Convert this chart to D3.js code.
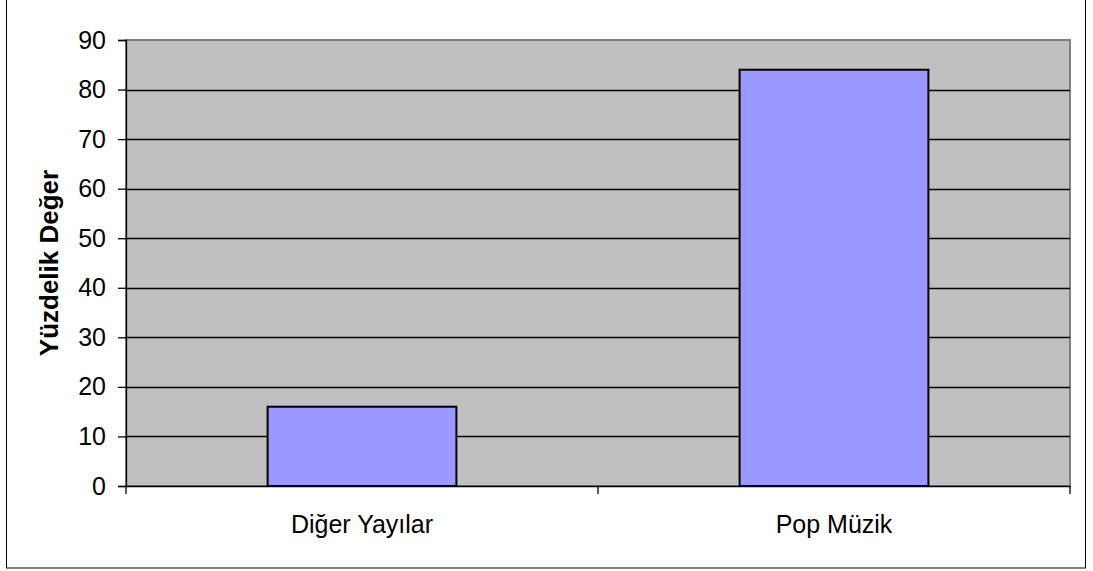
<!DOCTYPE html>
<html>
<head>
<meta charset="utf-8">
<script src="https://cdn.jsdelivr.net/npm/d3@7"></script>
<style>
  body { margin: 0; background: #fff; }
  svg { display: block; font-family: "Liberation Sans", Arial, sans-serif; }
</style>
</head>
<body>
<div id="chart"></div>
<script>
const categories = ["Diğer Yayılar", "Pop Müzik"];
const values = [16, 84];
const yTicks = [0, 10, 20, 30, 40, 50, 60, 70, 80, 90];

const W = 1093, H = 571;
const plot = { left: 126, top: 40, right: 1070, bottom: 486 };

const svg = d3.select("#chart").append("svg")
  .attr("width", W)
  .attr("height", H);

// outer frame
svg.append("rect")
  .attr("x", 6.5).attr("y", -2)
  .attr("width", 1079).attr("height", 570)
  .attr("fill", "none")
  .attr("stroke", "#000")
  .attr("stroke-width", 1);

const x = d3.scaleBand()
  .domain(categories)
  .range([plot.left, plot.right])
  .padding(0);

const y = d3.scaleLinear()
  .domain([0, 90])
  .range([plot.bottom, plot.top]);

// plot background
svg.append("rect")
  .attr("x", plot.left).attr("y", plot.top)
  .attr("width", plot.right - plot.left)
  .attr("height", plot.bottom - plot.top)
  .attr("fill", "#c0c0c0")
  .attr("stroke", "#808080")
  .attr("stroke-width", 2);

// gridlines
svg.append("g")
  .selectAll("line")
  .data(yTicks.filter(d => d > 0 && d < 90))
  .join("line")
  .attr("x1", plot.left).attr("x2", plot.right)
  .attr("y1", d => Math.round(y(d)) + 0.5)
  .attr("y2", d => Math.round(y(d)) + 0.5)
  .attr("stroke", "#000")
  .attr("stroke-width", 1.3);

// bars
const bw = x.bandwidth();
svg.append("g")
  .selectAll("rect")
  .data(values)
  .join("rect")
  .attr("x", (d, i) => x(categories[i]) + bw * 0.3)
  .attr("y", d => y(d))
  .attr("width", bw * 0.4)
  .attr("height", d => y(0) - y(d))
  .attr("fill", "#9999ff")
  .attr("stroke", "#000")
  .attr("stroke-width", 2);

// y axis
const yAxis = svg.append("g")
  .attr("transform", `translate(${plot.left},0)`)
  .call(d3.axisLeft(y).tickValues(yTicks).tickSize(8).tickPadding(12));
yAxis.select(".domain").attr("stroke", "#000").attr("stroke-width", 1.3);
yAxis.selectAll(".tick line").attr("stroke", "#000").attr("stroke-width", 1.3);
yAxis.selectAll(".tick text")
  .attr("font-size", 25)
  .attr("fill", "#000")
  .attr("font-family", "Liberation Sans, Arial, sans-serif");

// x axis
const xAxis = svg.append("g")
  .attr("transform", `translate(0,${plot.bottom})`)
  .call(d3.axisBottom(x).tickSize(0).tickPadding(29));
xAxis.select(".domain").attr("stroke", "#000").attr("stroke-width", 1.3);
xAxis.selectAll(".tick text")
  .attr("font-size", 25)
  .attr("fill", "#000")
  .attr("font-family", "Liberation Sans, Arial, sans-serif");

// category boundary ticks
const bounds = categories.map(c => x(c)).concat([x(categories[categories.length - 1]) + bw]);
svg.append("g")
  .selectAll("line")
  .data(bounds)
  .join("line")
  .attr("x1", d => d).attr("x2", d => d)
  .attr("y1", plot.bottom).attr("y2", plot.bottom + 8)
  .attr("stroke", "#000")
  .attr("stroke-width", 1.3);

// y title
svg.append("text")
  .attr("transform", `translate(58,${(plot.top + plot.bottom) / 2}) rotate(-90)`)
  .attr("text-anchor", "middle")
  .attr("font-size", 26)
  .attr("font-weight", "bold")
  .text("Yüzdelik Değer");
</script>
</body>
</html>
